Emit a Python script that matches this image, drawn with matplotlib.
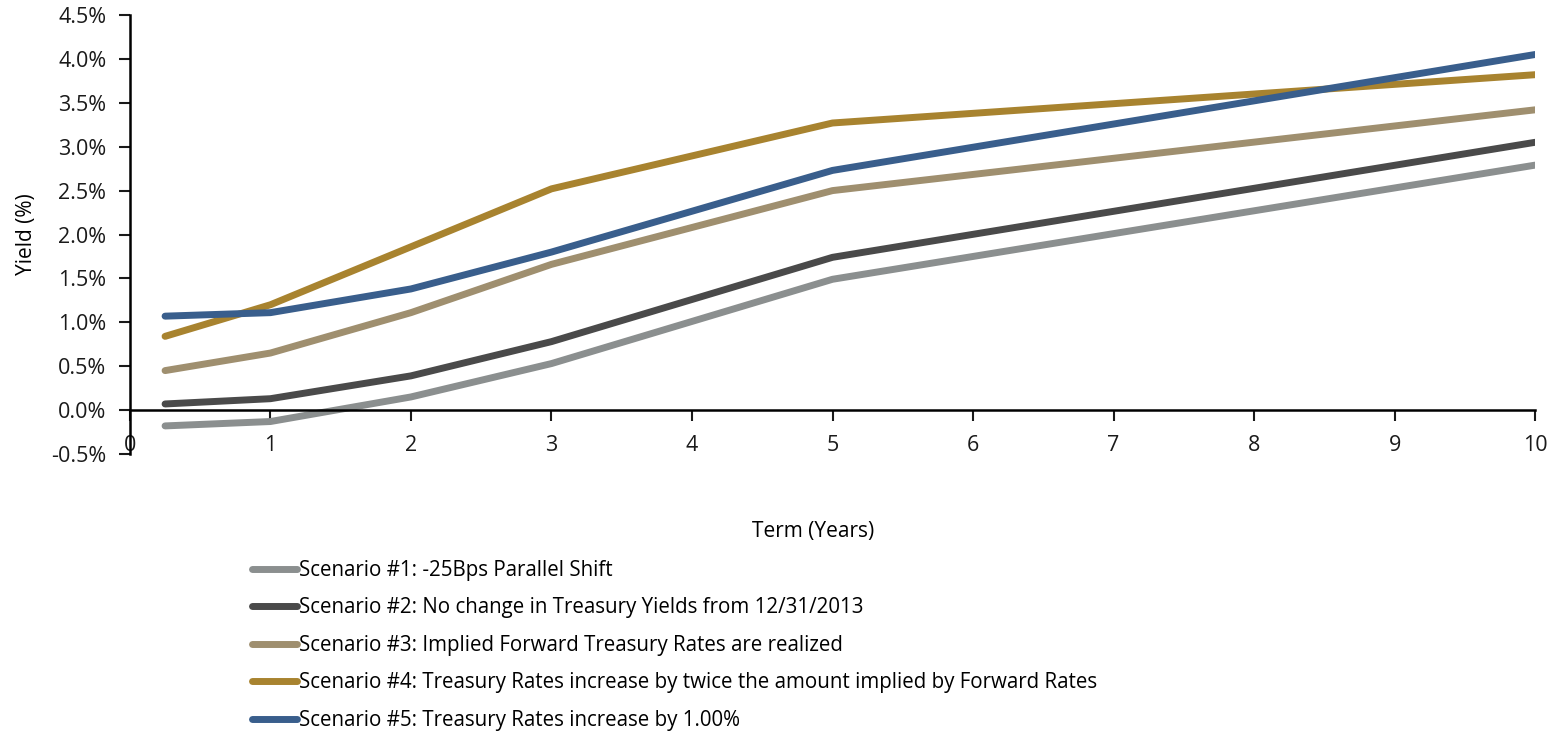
import matplotlib
matplotlib.use("Agg")
import matplotlib.pyplot as plt
from matplotlib.ticker import FuncFormatter, MultipleLocator

plt.rcParams['font.family'] = ['Open Sans', 'DejaVu Sans']

terms = [0.25, 1, 2, 3, 5, 10]
s1 = [-0.18, -0.13, 0.15, 0.53, 1.49, 2.79]
s2 = [0.07, 0.13, 0.39, 0.78, 1.74, 3.05]
s3 = [0.45, 0.65, 1.11, 1.66, 2.50, 3.42]
s4 = [0.84, 1.20, 1.86, 2.52, 3.27, 3.82]
s5 = [1.07, 1.11, 1.38, 1.80, 2.73, 4.05]
labels = [
    "Scenario #1: -25Bps Parallel Shift",
    "Scenario #2: No change in Treasury Yields from 12/31/2013",
    "Scenario #3: Implied Forward Treasury Rates are realized",
    "Scenario #4: Treasury Rates increase by twice the amount implied by Forward Rates",
    "Scenario #5: Treasury Rates increase by 1.00%",
]
colors = ["#8B8F8F", "#4A4A4A", "#9F8F6F", "#A8832F", "#395E8C"]
x_ticks = list(range(0, 11))

fig = plt.figure(figsize=(15.58, 7.35), dpi=100)
ax = fig.add_axes([0.0834, 0.3823, 0.9019, 0.5973])

for ys, lab, c in zip([s1, s2, s3, s4, s5], labels, colors):
    ax.plot(terms, ys, color=c, lw=5, label=lab, solid_capstyle='round', solid_joinstyle='round')

ax.set_xlim(0, 10)
ax.set_ylim(-0.5, 4.5)
ax.set_xticks(x_ticks)
ax.yaxis.set_major_locator(MultipleLocator(0.5))
ax.yaxis.set_major_formatter(FuncFormatter(lambda v, p: f"{v:.1f}%"))

ax.spines['top'].set_visible(False)
ax.spines['right'].set_visible(False)
ax.spines['bottom'].set_position(('data', 0))
for s in ['left', 'bottom']:
    ax.spines[s].set_linewidth(1.8)
    ax.spines[s].set_color('black')

ax.tick_params(axis='y', direction='out', length=8, width=1.5, labelsize=15.5, pad=9, colors='#1a1a1a')
ax.tick_params(axis='x', direction='out', length=8, width=1.5, labelsize=15.5, pad=10, colors='#1a1a1a')

ax.set_ylabel("Yield (%)", fontsize=15, labelpad=10)
fig.text(813 / 1558, 1 - 532 / 735, "Term (Years)", ha='center', va='center', fontsize=15)

handles, labs = ax.get_legend_handles_labels()
leg = fig.legend(handles, labs, loc='upper left', bbox_to_anchor=(252 / 1558, 1 - 560 / 735),
                 frameon=False, fontsize=14.8, handlelength=2.2, handletextpad=0.1,
                 labelspacing=0.80, borderaxespad=0, borderpad=0)

fig.savefig("out.png", dpi=100)
